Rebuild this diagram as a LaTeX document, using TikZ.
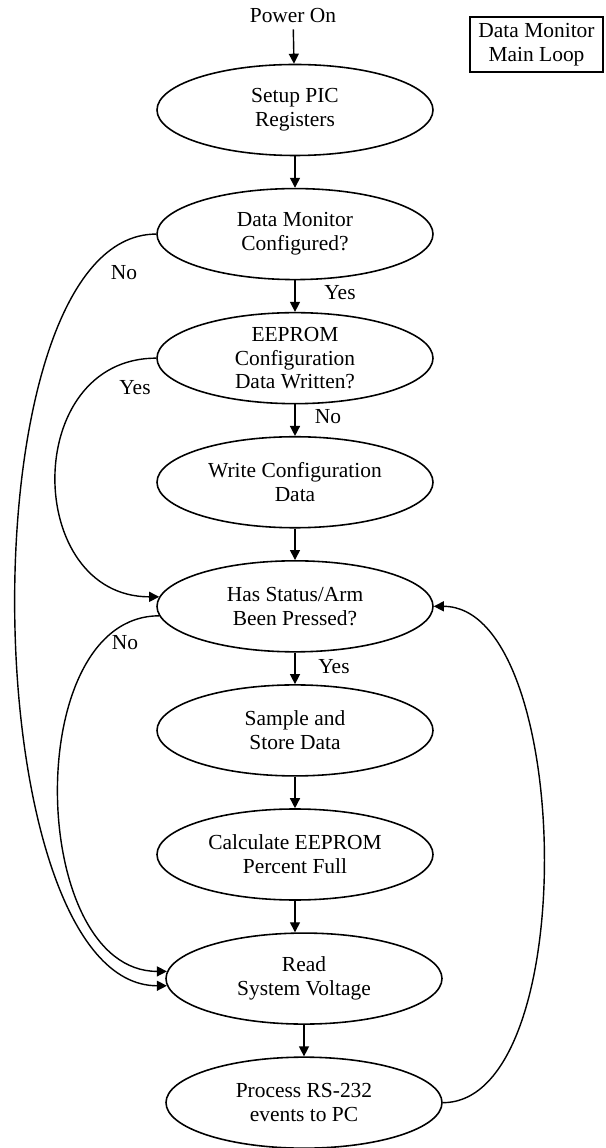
\documentclass[tikz,border=0pt]{standalone}
\usepackage{fontspec}
\setmainfont{Liberation Serif}
\usepackage{tikz}
\usetikzlibrary{positioning,arrows.meta,shapes.geometric}

\begin{document}
\begin{tikzpicture}[>={Triangle[length=0.2cm,width=0.2cm]}, node distance=0.63cm,
    every node/.style={font=\fontsize{12.2}{13.6}\selectfont}]
  \tikzstyle{stepellipse}=[draw, ellipse, line width=0.9pt, minimum width=5.52cm, minimum height=1.82cm, inner sep=0pt, align=center]
  \tikzstyle{flow}=[->, line width=0.8pt]
  \useasboundingbox (0,0) rectangle (12.1,-22.96);

  \node (power) at (5.86,-0.32) {Power On};
  \node[draw, line width=0.7pt, minimum width=2.66cm, minimum height=1.1cm, align=center] (title) at (10.73,-0.89) {Data Monitor\\Main Loop};

  \node[stepellipse] (setup) at (5.9,-2.2) {Setup PIC\\Registers};
  \node[stepellipse, below=of setup] (dmc) {Data Monitor\\Configured?};
  \node[stepellipse, below=of dmc] (eeprom) {EEPROM\\Configuration\\Data Written?};
  \node[stepellipse, below=of eeprom] (write) {Write Configuration\\Data};
  \node[stepellipse, below=of write] (status) {Has Status/Arm\\Been Pressed?};
  \node[stepellipse, below=of status] (sample) {Sample and\\Store Data};
  \node[stepellipse, below=of sample] (calc) {Calculate EEPROM\\Percent Full};
  \node[stepellipse, below=of calc, xshift=0.18cm] (read) {Read\\System Voltage};
  \node[stepellipse, below=of read] (process) {Process RS-232\\events to PC};

  % straight flow
  \draw[flow] (power) -- (setup);
  \draw[flow] (setup) -- (dmc);
  \draw[flow] (dmc) -- (eeprom);
  \draw[flow] (eeprom) -- (write);
  \draw[flow] (write) -- (status);
  \draw[flow] (status) -- (sample);
  \draw[flow] (sample) -- (calc);
  \draw[flow] (calc.south) -- (calc.south |- read.north);
  \draw[flow] (read) -- (process);

  % branches
  \draw[flow] (dmc.west) to[out=180, in=180, looseness=0.66] (read.183);
  \draw[flow] (eeprom.west) to[out=180, in=180, looseness=1.45] (status.176);
  \draw[flow] (status.184) to[out=180, in=180, looseness=1] (read.177);
  \draw[flow] (process.east) to[out=0, in=0, looseness=0.72] (status.east);

  \node at (2.48,-5.46) {No};
  \node at (6.8,-5.86) {Yes};
  \node at (2.7,-7.76) {Yes};
  \node at (6.56,-8.34) {No};
  \node at (2.5,-12.86) {No};
  \node at (6.68,-13.34) {Yes};
\end{tikzpicture}
\end{document}
